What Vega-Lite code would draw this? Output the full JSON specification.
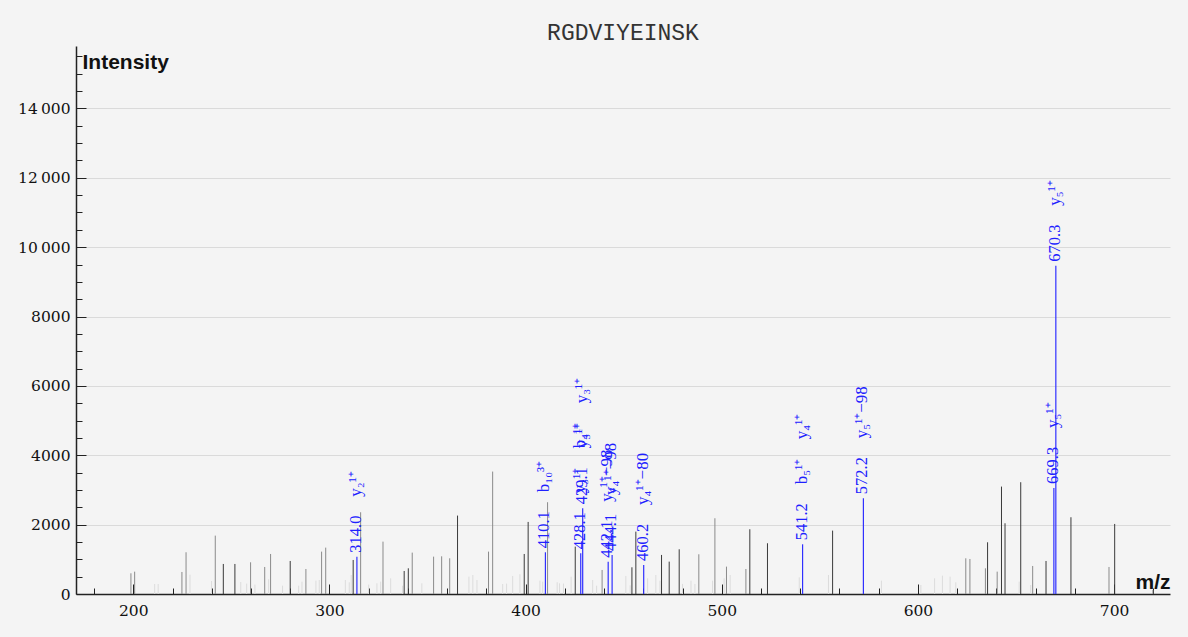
{
  "$schema": "https://vega.github.io/schema/vega-lite/v6.json",
  "width": 1094,
  "height": 548,
  "autosize": {"type": "none"},
  "padding": {"left": 76, "top": 46, "right": 18, "bottom": 43},
  "background": "#f4f4f4",
  "title": {"text": "RGDVIYEINSK", "font": "Liberation Mono", "fontSize": 23, "fontWeight": "normal", "color": "#333333", "anchor": "middle", "offset": 1},
  "config": {"view": {"stroke": null}},
  "datasets": {
    "peaks": [
      {"mz": 210.9, "intensity": 289, "kind": "noise"},
      {"mz": 212.7, "intensity": 289, "kind": "noise"},
      {"mz": 228.9, "intensity": 557, "kind": "noise"},
      {"mz": 239.9, "intensity": 375, "kind": "noise"},
      {"mz": 254.8, "intensity": 346, "kind": "noise"},
      {"mz": 257.8, "intensity": 300, "kind": "noise"},
      {"mz": 262.0, "intensity": 270, "kind": "noise"},
      {"mz": 269.0, "intensity": 424, "kind": "noise"},
      {"mz": 276.1, "intensity": 240, "kind": "noise"},
      {"mz": 284.3, "intensity": 240, "kind": "noise"},
      {"mz": 286.0, "intensity": 356, "kind": "noise"},
      {"mz": 293.1, "intensity": 385, "kind": "noise"},
      {"mz": 294.8, "intensity": 404, "kind": "noise"},
      {"mz": 308.1, "intensity": 404, "kind": "noise"},
      {"mz": 310.1, "intensity": 337, "kind": "noise"},
      {"mz": 311.1, "intensity": 548, "kind": "noise"},
      {"mz": 320.0, "intensity": 270, "kind": "noise"},
      {"mz": 324.2, "intensity": 308, "kind": "noise"},
      {"mz": 326.1, "intensity": 356, "kind": "noise"},
      {"mz": 331.2, "intensity": 452, "kind": "noise"},
      {"mz": 337.3, "intensity": 240, "kind": "noise"},
      {"mz": 347.1, "intensity": 308, "kind": "noise"},
      {"mz": 371.1, "intensity": 500, "kind": "noise"},
      {"mz": 373.1, "intensity": 548, "kind": "noise"},
      {"mz": 375.2, "intensity": 404, "kind": "noise"},
      {"mz": 388.3, "intensity": 289, "kind": "noise"},
      {"mz": 390.3, "intensity": 300, "kind": "noise"},
      {"mz": 393.4, "intensity": 520, "kind": "noise"},
      {"mz": 397.1, "intensity": 568, "kind": "noise"},
      {"mz": 407.3, "intensity": 385, "kind": "noise"},
      {"mz": 408.7, "intensity": 356, "kind": "noise"},
      {"mz": 416.1, "intensity": 337, "kind": "noise"},
      {"mz": 417.3, "intensity": 308, "kind": "noise"},
      {"mz": 419.3, "intensity": 300, "kind": "noise"},
      {"mz": 423.2, "intensity": 500, "kind": "noise"},
      {"mz": 434.2, "intensity": 404, "kind": "noise"},
      {"mz": 436.2, "intensity": 240, "kind": "noise"},
      {"mz": 451.1, "intensity": 520, "kind": "noise"},
      {"mz": 453.3, "intensity": 250, "kind": "noise"},
      {"mz": 462.2, "intensity": 452, "kind": "noise"},
      {"mz": 466.4, "intensity": 548, "kind": "noise"},
      {"mz": 468.5, "intensity": 385, "kind": "noise"},
      {"mz": 480.0, "intensity": 290, "kind": "noise"},
      {"mz": 484.3, "intensity": 385, "kind": "noise"},
      {"mz": 486.3, "intensity": 290, "kind": "noise"},
      {"mz": 495.3, "intensity": 385, "kind": "noise"},
      {"mz": 501.2, "intensity": 452, "kind": "noise"},
      {"mz": 504.3, "intensity": 548, "kind": "noise"},
      {"mz": 539.5, "intensity": 481, "kind": "noise"},
      {"mz": 554.4, "intensity": 548, "kind": "noise"},
      {"mz": 581.4, "intensity": 385, "kind": "noise"},
      {"mz": 601.5, "intensity": 260, "kind": "noise"},
      {"mz": 608.5, "intensity": 452, "kind": "noise"},
      {"mz": 612.5, "intensity": 529, "kind": "noise"},
      {"mz": 616.4, "intensity": 500, "kind": "noise"},
      {"mz": 619.3, "intensity": 337, "kind": "noise"},
      {"mz": 651.6, "intensity": 356, "kind": "noise"},
      {"mz": 657.5, "intensity": 260, "kind": "noise"},
      {"mz": 198.8, "intensity": 597, "kind": "minor"},
      {"mz": 200.7, "intensity": 644, "kind": "minor"},
      {"mz": 224.8, "intensity": 635, "kind": "minor"},
      {"mz": 226.9, "intensity": 1203, "kind": "minor"},
      {"mz": 241.8, "intensity": 1683, "kind": "minor"},
      {"mz": 259.8, "intensity": 914, "kind": "minor"},
      {"mz": 267.0, "intensity": 779, "kind": "minor"},
      {"mz": 270.0, "intensity": 1154, "kind": "minor"},
      {"mz": 288.0, "intensity": 721, "kind": "minor"},
      {"mz": 296.0, "intensity": 1222, "kind": "minor"},
      {"mz": 298.1, "intensity": 1337, "kind": "minor"},
      {"mz": 315.9, "intensity": 2357, "kind": "minor"},
      {"mz": 327.3, "intensity": 1510, "kind": "minor"},
      {"mz": 342.2, "intensity": 1193, "kind": "minor"},
      {"mz": 353.1, "intensity": 1077, "kind": "minor"},
      {"mz": 357.2, "intensity": 1087, "kind": "minor"},
      {"mz": 361.3, "intensity": 1029, "kind": "minor"},
      {"mz": 381.1, "intensity": 1222, "kind": "minor"},
      {"mz": 383.2, "intensity": 3530, "kind": "minor"},
      {"mz": 411.2, "intensity": 2646, "kind": "minor"},
      {"mz": 439.0, "intensity": 693, "kind": "minor"},
      {"mz": 488.3, "intensity": 1145, "kind": "minor"},
      {"mz": 496.5, "intensity": 2184, "kind": "minor"},
      {"mz": 502.4, "intensity": 789, "kind": "minor"},
      {"mz": 512.3, "intensity": 721, "kind": "minor"},
      {"mz": 624.4, "intensity": 1029, "kind": "minor"},
      {"mz": 626.5, "intensity": 1010, "kind": "minor"},
      {"mz": 634.4, "intensity": 741, "kind": "minor"},
      {"mz": 640.4, "intensity": 645, "kind": "minor"},
      {"mz": 658.5, "intensity": 808, "kind": "minor"},
      {"mz": 697.4, "intensity": 779, "kind": "minor"},
      {"mz": 719.8, "intensity": 120, "kind": "minor"},
      {"mz": 245.9, "intensity": 866, "kind": "major"},
      {"mz": 251.8, "intensity": 866, "kind": "major"},
      {"mz": 280.0, "intensity": 952, "kind": "major"},
      {"mz": 312.1, "intensity": 981, "kind": "major"},
      {"mz": 338.1, "intensity": 664, "kind": "major"},
      {"mz": 340.2, "intensity": 741, "kind": "major"},
      {"mz": 365.3, "intensity": 2261, "kind": "major"},
      {"mz": 399.3, "intensity": 1154, "kind": "major"},
      {"mz": 401.3, "intensity": 2078, "kind": "major"},
      {"mz": 425.3, "intensity": 1366, "kind": "major"},
      {"mz": 454.2, "intensity": 770, "kind": "major"},
      {"mz": 456.2, "intensity": 1799, "kind": "major"},
      {"mz": 469.3, "intensity": 1126, "kind": "major"},
      {"mz": 473.2, "intensity": 933, "kind": "major"},
      {"mz": 478.3, "intensity": 1289, "kind": "major"},
      {"mz": 514.3, "intensity": 1867, "kind": "major"},
      {"mz": 523.3, "intensity": 1463, "kind": "major"},
      {"mz": 556.5, "intensity": 1828, "kind": "major"},
      {"mz": 635.5, "intensity": 1491, "kind": "major"},
      {"mz": 642.6, "intensity": 3097, "kind": "major"},
      {"mz": 644.4, "intensity": 2039, "kind": "major"},
      {"mz": 652.4, "intensity": 3223, "kind": "major"},
      {"mz": 665.3, "intensity": 952, "kind": "major"},
      {"mz": 678.0, "intensity": 2213, "kind": "major"},
      {"mz": 700.3, "intensity": 2020, "kind": "major"}
    ],
    "ann": [
      {"mz": 314.0, "intensity": 1077, "ion1": "y₂¹⁺"},
      {"mz": 410.1, "intensity": 1203, "ion1": "b₁₀³⁺"},
      {"mz": 428.1, "intensity": 1174, "ion1": "y₃¹⁺", "ion2": "b₄¹⁺"},
      {"mz": 429.1, "intensity": 2470, "ion1": "y₃¹⁺", "ion2": "y₃¹⁺"},
      {"mz": 442.1, "intensity": 932, "ion1": "y₄¹⁺−98"},
      {"mz": 444.1, "intensity": 1125, "ion1": "y₄¹⁺−98"},
      {"mz": 460.2, "intensity": 837, "ion1": "y₄¹⁺−80"},
      {"mz": 541.2, "intensity": 1433, "ion1": "b₅¹⁺", "ion2": "y₄¹⁺"},
      {"mz": 572.2, "intensity": 2761, "ion1": "y₅¹⁺−98"},
      {"mz": 669.3, "intensity": 3059, "ion1": "y₅¹⁺"},
      {"mz": 670.3, "intensity": 9466, "ion1": "y₅¹⁺"}
    ]
  },
  "encoding": {
    "x": {
      "field": "mz", "type": "quantitative",
      "scale": {"domain": [170.8, 728.5], "nice": false, "zero": false},
      "axis": {
        "values": [180, 200, 220, 240, 260, 280, 300, 320, 340, 360, 380, 400, 420, 440, 460, 480, 500, 520, 540, 560, 580, 600, 620, 640, 660, 680, 700, 720],
        "labelExpr": "datum.value % 100 === 0 ? format(datum.value, 'd') : ''",
        "tickSize": {"condition": {"test": "datum.value % 100 === 0", "value": -10}, "value": -6},
        "tickColor": "#222222", "tickWidth": 1,
        "domainColor": "#222222", "domainWidth": 1.5,
        "grid": false,
        "labelFont": "DejaVu Serif", "labelFontSize": 15.5, "labelColor": "#111111", "labelPadding": 19,
        "labelFlush": false, "labelOverlap": false,
        "title": "m/z", "titleFont": "Liberation Sans", "titleFontWeight": "bold", "titleFontSize": 21, "titleColor": "#111111",
        "titleAnchor": "end", "titleAlign": "right", "titleBaseline": "alphabetic", "titleX": 1094, "titleY": -6
      }
    },
    "y": {
      "field": "intensity", "type": "quantitative",
      "scale": {"domain": [0, 15800], "nice": false},
      "axis": {
        "values": [0, 500, 1000, 1500, 2000, 2500, 3000, 3500, 4000, 4500, 5000, 5500, 6000, 6500, 7000, 7500, 8000, 8500, 9000, 9500, 10000, 10500, 11000, 11500, 12000, 12500, 13000, 13500, 14000, 14500, 15000, 15500],
        "labelExpr": "datum.value % 2000 === 0 ? (datum.value >= 10000 ? replace(format(datum.value, ','), ',', '\u2009') : format(datum.value, 'd')) : ''",
        "tickSize": {"condition": {"test": "datum.value % 2000 === 0", "value": -10}, "value": -6},
        "tickColor": "#222222", "tickWidth": 1,
        "domainColor": "#222222", "domainWidth": 1.5,
        "grid": true, "gridColor": "#dadada", "gridWidth": 1.2,
        "gridOpacity": {"condition": {"test": "datum.value % 2000 === 0 && datum.value > 0", "value": 1}, "value": 0},
        "labelFont": "DejaVu Serif", "labelFontSize": 15.5, "labelColor": "#111111", "labelPadding": 16,
        "labelFlush": false, "labelOverlap": false,
        "title": "Intensity", "titleFont": "Liberation Sans", "titleFontWeight": "bold", "titleFontSize": 21, "titleColor": "#111111",
        "titleAngle": 0, "titleAlign": "left", "titleBaseline": "top", "titleX": 6, "titleY": 5
      }
    }
  },
  "layer": [
    {
      "data": {"name": "peaks"},
      "mark": {"type": "rule", "strokeWidth": 1},
      "encoding": {
        "y2": {"datum": 0},
        "color": {"field": "kind", "type": "nominal", "scale": {"domain": ["noise", "minor", "major"], "range": ["#dcdcdc", "#8a8a8a", "#3a3a3a"]}, "legend": null}
      }
    },
    {
      "data": {"name": "ann"},
      "mark": {"type": "rule", "strokeWidth": 1.2, "color": "#3030ff"},
      "encoding": {"y2": {"datum": 0}}
    },
    {
      "data": {"name": "ann"},
      "mark": {"type": "text", "angle": 270, "align": "left", "baseline": "middle", "dx": 4, "dy": -1, "font": "Liberation Serif", "fontSize": 16.5, "color": "#2020ff"},
      "encoding": {"text": {"field": "mz", "type": "quantitative", "format": ".1f"}}
    },
    {
      "data": {"name": "ann"},
      "mark": {"type": "text", "angle": 270, "align": "left", "baseline": "middle", "dx": 60, "dy": -1, "font": "Liberation Serif", "fontSize": 17, "color": "#2020ff"},
      "encoding": {"text": {"field": "ion1", "type": "nominal"}}
    },
    {
      "data": {"name": "ann"},
      "transform": [{"filter": "isValid(datum.ion2)"}],
      "mark": {"type": "text", "angle": 270, "align": "left", "baseline": "middle", "dx": 105, "dy": -1, "font": "Liberation Serif", "fontSize": 17, "color": "#2020ff"},
      "encoding": {"text": {"field": "ion2", "type": "nominal"}}
    }
  ]
}
